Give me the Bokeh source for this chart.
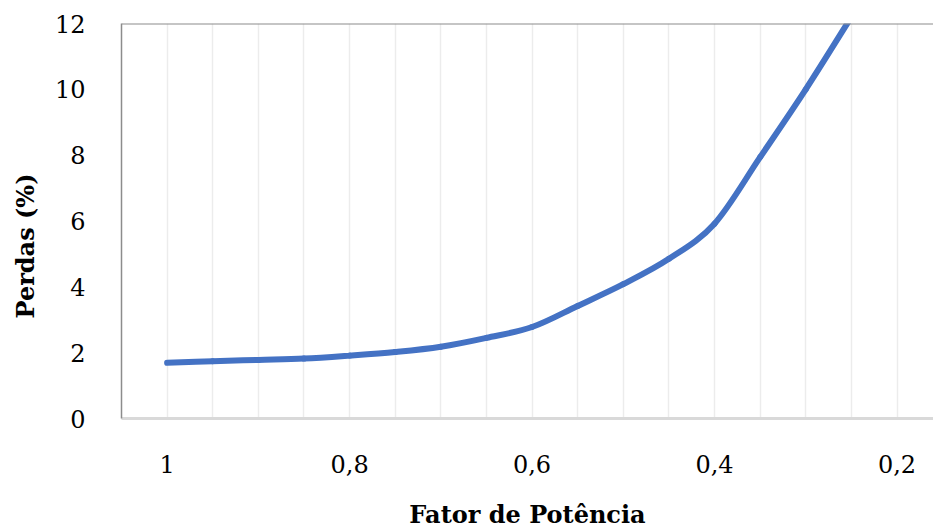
from bokeh.plotting import figure
from bokeh.models import Range1d, FixedTicker, CustomJSTickFormatter, Span, Title
from bokeh.embed import file_html
from bokeh.resources import INLINE

# Data
fator = [1.00, 0.95, 0.90, 0.85, 0.80, 0.75, 0.70, 0.65, 0.60,
         0.55, 0.50, 0.45, 0.40, 0.35, 0.30, 0.25]
perdas = [1.69, 1.74, 1.78, 1.82, 1.91, 2.02, 2.18, 2.45, 2.78,
          3.42, 4.08, 4.85, 5.92, 7.94, 10.0, 12.2]
label_ticks = [1.0, 0.8, 0.6, 0.4, 0.2]
grid_ticks = [1.0, 0.95, 0.9, 0.85, 0.8, 0.75, 0.7, 0.65, 0.6, 0.55,
              0.5, 0.45, 0.4, 0.35, 0.3, 0.25, 0.2]
y_ticks = [0, 2, 4, 6, 8, 10, 12]

FONT = "DejaVu Serif"
LINE = "#4472C4"

p = figure(width=933, height=531, output_backend="svg", toolbar_location=None,
           x_range=Range1d(1.05, 0.16), y_range=Range1d(0, 12),
           min_border_left=121, min_border_right=0, min_border_top=23,
           min_border_bottom=113)
p.outline_line_color = None
p.background_fill_color = "white"
p.border_fill_color = "white"

# smoothed line: cubic Bezier segments with control points from neighbours
n = len(fator)
x0s, y0s, x1s, y1s, cx0s, cy0s, cx1s, cy1s = [], [], [], [], [], [], [], []
for i in range(n - 1):
    xa, ya = fator[i], perdas[i]
    xb, yb = fator[i + 1], perdas[i + 1]
    xp, yp = (fator[i - 1], perdas[i - 1]) if i > 0 else (xa, ya)
    xn, yn = (fator[i + 2], perdas[i + 2]) if i + 2 < n else (xb, yb)
    x0s.append(xa); y0s.append(ya); x1s.append(xb); y1s.append(yb)
    cx0s.append(xa + (xb - xp) / 6); cy0s.append(ya + (yb - yp) / 6)
    cx1s.append(xb - (xn - xa) / 6); cy1s.append(yb - (yn - ya) / 6)

p.bezier(x0=x0s, y0=y0s, x1=x1s, y1=y1s, cx0=cx0s, cy0=cy0s,
         cx1=cx1s, cy1=cy1s, line_color=LINE, line_width=6, line_cap="round")

# axes
p.xaxis.ticker = FixedTicker(ticks=label_ticks)
p.xaxis.formatter = CustomJSTickFormatter(
    code="return (Math.round(tick*10)/10).toString().replace('.', ',');")
p.xaxis.axis_line_color = "#d9d9d9"
p.xaxis.axis_line_width = 3
p.xaxis.major_tick_line_color = None
p.xaxis.minor_tick_line_color = None
p.xaxis.major_label_standoff = 30
p.xaxis.major_label_text_font = FONT
p.xaxis.major_label_text_font_size = "24px"
p.xaxis.major_label_text_color = "#000000"
p.xaxis.axis_label = "Fator de Potência"
p.xaxis.axis_label_text_font = FONT
p.xaxis.axis_label_text_font_style = "bold"
p.xaxis.axis_label_text_font_size = "24px"
p.xaxis.axis_label_text_color = "#000000"
p.xaxis.axis_label_standoff = 24

p.yaxis.ticker = FixedTicker(ticks=y_ticks)
p.yaxis.axis_line_color = "#8c8c8c"
p.yaxis.axis_line_width = 1.5
p.yaxis.major_tick_line_color = None
p.yaxis.minor_tick_line_color = None
p.yaxis.major_label_standoff = 30
p.yaxis.major_label_text_font = FONT
p.yaxis.major_label_text_font_size = "24px"
p.yaxis.major_label_text_color = "#000000"

p.xgrid.ticker = FixedTicker(ticks=grid_ticks)
p.xgrid.grid_line_color = "#ececec"
p.xgrid.grid_line_width = 1.5
p.ygrid.grid_line_color = None

p.add_layout(Span(location=12, dimension="width", line_color="#8c8c8c",
                  line_width=2))

p.add_layout(Title(text="Perdas (%)", align="left", offset=100,
                   vertical_align="top", standoff=19,
                   text_font=FONT, text_font_style="bold",
                   text_font_size="24px", text_color="#000000"), "left")

open("out.html", "w").write(file_html(p, INLINE))
